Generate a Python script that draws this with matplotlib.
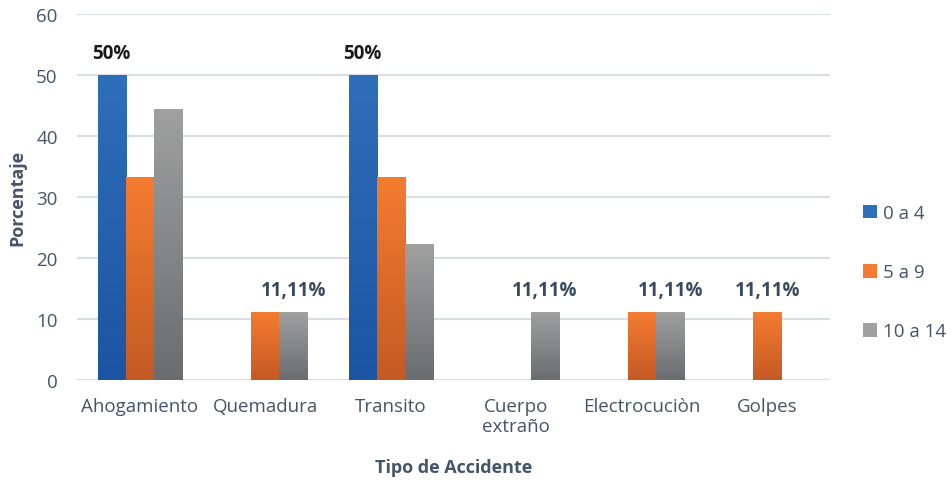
import numpy as np
import matplotlib
matplotlib.use("Agg")
import matplotlib.pyplot as plt
from matplotlib.colors import LinearSegmentedColormap
from matplotlib.patches import Patch

# --- datos ---
categorias = ["Ahogamiento", "Quemadura", "Transito", "Cuerpo\nextraño", "Electrocuciòn", "Golpes"]
series = ["0 a 4", "5 a 9", "10 a 14"]
edad_0_4 = [50, 0, 50, 0, 0, 0]
edad_5_9 = [33.33, 11.11, 33.33, 0, 11.11, 11.11]
edad_10_14 = [44.44, 11.11, 22.22, 11.11, 11.11, 0]
# etiquetas: (categoria, serie, texto)
etiquetas = [(0, 0, "50%"), (2, 0, "50%"), (1, 2, "11,11%"), (3, 2, "11,11%"),
             (4, 2, "11,11%"), (5, 1, "11,11%")]

colores = [("#2F6EB9", "#1C55A3"), ("#F47C30", "#C45A24"), ("#A0A0A0", "#6A6D70")]
texto = "#44546A"

plt.rcParams["font.family"] = ["Open Sans", "DejaVu Sans"]

fig = plt.figure(figsize=(9.52, 4.81), dpi=100)
ax = fig.add_axes([0.081, 0.208, 0.791, 0.761])

datos = [edad_0_4, edad_5_9, edad_10_14]
x = np.arange(len(categorias))
ancho = 0.225
barras = []
for k in range(3):
    b = ax.bar(x + (k - 1) * ancho, datos[k], ancho, color=colores[k][0], zorder=3)
    barras.append(b)

# gradiente en cada barra
grad = np.linspace(0, 1, 100).reshape(-1, 1)
for k in range(3):
    cmap = LinearSegmentedColormap.from_list("c%d" % k, [colores[k][1], colores[k][0]])
    for p in barras[k].patches:
        if p.get_height() <= 0:
            continue
        x0 = p.get_x()
        im = ax.imshow(grad, cmap=cmap, aspect="auto", origin="lower",
                       extent=[x0, x0 + p.get_width(), 0, p.get_height()], zorder=3)
        im.set_clip_path(p)
        p.set_facecolor("none")
ax.set_xlim(-0.5, len(categorias) - 0.5)
ax.set_ylim(0, 60)

for c, s, t in etiquetas:
    if t == "50%":
        col = "#1A1A1A"
    else:
        col = "#3A4A5E"
    ax.text(x[c] + (s - 1) * ancho, datos[s][c] + 3.6, t, ha="center", va="center",
            fontsize=13.5, fontweight="bold", color=col, zorder=4)

ax.set_yticks(range(0, 61, 10))
ax.set_xticks(x)
ax.set_xticklabels(categorias)
ax.tick_params(axis="both", length=0, labelsize=13.5, colors=texto)
ax.tick_params(axis="x", pad=12)
ax.tick_params(axis="y", pad=14)
ax.grid(axis="y", color="#D9DEE5", linewidth=1.5, zorder=0)
for s in ax.spines.values():
    s.set_visible(False)

ax.set_ylabel("Porcentaje", fontsize=13, fontweight="bold", color=texto, labelpad=7)
ax.set_xlabel("Tipo de Accidente", fontsize=13, fontweight="bold", color=texto, labelpad=16)

handles = [Patch(facecolor=colores[k][0]) for k in range(3)]
fig.legend(handles, series, loc="center left", bbox_to_anchor=(0.889, 0.432), frameon=False,
           fontsize=13.5, labelcolor=texto, handlelength=0.75, handleheight=0.75,
           handletextpad=0.3, labelspacing=2.2)

fig.savefig("out.png", dpi=100)
